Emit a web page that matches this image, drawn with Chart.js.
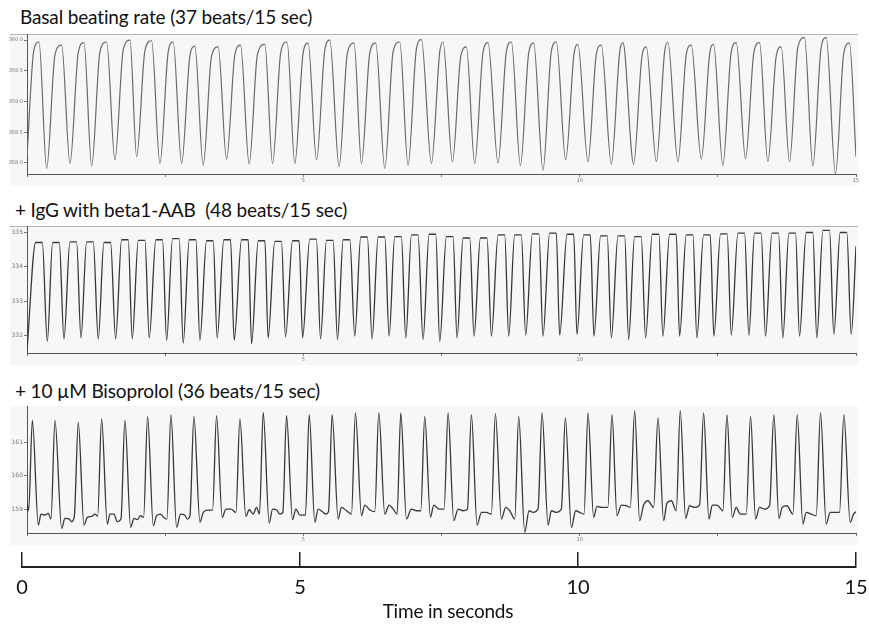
<!DOCTYPE html>
<html>
<head>
<meta charset="utf-8">
<title>Beating rate traces</title>
<script src="https://cdn.jsdelivr.net/npm/chart.js@4.4.1/dist/chart.umd.min.js"></script>
<style>
  html, body { margin: 0; padding: 0; background: #fff; }
  body { width: 869px; height: 625px; position: relative; overflow: hidden; font-family: 'Lato', sans-serif; }
  .title { position: absolute; font-size: 19px; line-height: 20px; letter-spacing: -0.15px; color: #111; white-space: pre; }
  .axis-title { position: absolute; left: 348px; width: 200px; text-align: center; font-size: 19px; line-height: 19px;
                letter-spacing: -0.2px; color: #111; }
  .panel { position: absolute; left: 0; }
</style>
</head>
<body>

<div class="title" style="top:7px;left:20px">Basal beating rate (37 beats/15 sec)</div>
<div class="title" style="top:200px;left:15px">+ IgG with beta1-AAB  (48 beats/15 sec)</div>
<div class="title" style="top:381px;left:15px">+ 10 µM Bisoprolol (36 beats/15 sec)</div>

<canvas id="chartBasal" class="panel" width="869" height="152" style="top:34px"></canvas>
<canvas id="chartIgG"   class="panel" width="869" height="139" style="top:226px"></canvas>
<canvas id="chartBiso"  class="panel" width="869" height="139" style="top:406px"></canvas>
<canvas id="chartTime"  class="panel" width="869" height="85"  style="top:540px"></canvas>
<div class="axis-title" style="top:601px">Time in seconds</div>

<script>
/* ================================================================
   DATA — key points (time in s)
   ================================================================ */
const xTickValues = [0, 2.5, 5, 7.5, 10, 12.5, 15];
const timeTicks   = [0, 5, 10, 15];

/* Basal beating rate */
const basalTicks   = [358.0, 358.5, 359.0, 359.5, 360.0];
const basalPeakT   = [0.217, 0.627, 1.031, 1.441, 1.863, 2.255, 2.646, 3.038, 3.459, 3.864, 4.304, 4.707, 5.087,
                      5.479, 5.919, 6.311, 6.745, 7.137, 7.528, 7.951, 8.342, 8.765, 9.168, 9.579, 9.969, 10.392,
                      10.783, 11.206, 11.597, 12.020, 12.423, 12.834, 13.255, 13.647, 14.069, 14.461, 14.882];
const basalPeakV   = [359.97, 359.92, 359.96, 359.97, 360.00, 359.99, 359.97, 359.90, 359.89, 359.92, 359.93, 359.97, 359.95,
                      360.00, 359.95, 359.95, 359.97, 360.01, 359.97, 359.89, 359.96, 359.97, 359.95, 359.97, 359.93, 359.92,
                      359.96, 359.89, 359.97, 359.92, 359.93, 359.96, 359.96, 359.89, 360.04, 360.04, 359.95];
const basalShoulderT = [0.120, 0.506, 0.928, 1.320, 1.741, 2.134, 2.555, 2.947, 3.338, 3.761, 4.170, 4.593, 4.996,
                        5.389, 5.797, 6.202, 6.624, 7.045, 7.468, 7.848, 8.251, 8.673, 9.078, 9.486, 9.897, 10.300,
                        10.723, 11.126, 11.537, 11.928, 12.351, 12.741, 13.152, 13.555, 13.947, 14.369, 14.779];
const basalShoulderV = [359.81, 359.76, 359.80, 359.81, 359.84, 359.83, 359.81, 359.74, 359.73, 359.76, 359.77, 359.81, 359.79,
                        359.84, 359.79, 359.79, 359.81, 359.85, 359.81, 359.73, 359.80, 359.81, 359.79, 359.81, 359.77, 359.76,
                        359.80, 359.73, 359.81, 359.76, 359.77, 359.80, 359.80, 359.73, 359.88, 359.88, 359.79];
const basalTroughT = [0, 0.356, 0.778, 1.170, 1.591, 1.984, 2.405, 2.797, 3.188, 3.611, 4.020, 4.443, 4.846, 5.239,
                      5.647, 6.052, 6.474, 6.895, 7.318, 7.698, 8.101, 8.523, 8.928, 9.336, 9.747, 10.150, 10.573,
                      10.976, 11.387, 11.778, 12.201, 12.591, 13.002, 13.405, 13.797, 14.219, 14.629, 15];
const basalTroughV = [358.10, 357.91, 357.99, 357.95, 358.05, 358.10, 357.99, 357.99, 357.96, 358.06, 357.98, 357.99, 357.99, 358.05,
                      357.94, 357.99, 357.91, 357.96, 357.99, 358.02, 357.99, 358.00, 357.96, 357.88, 358.05, 358.02, 357.98,
                      357.98, 358.02, 358.02, 358.06, 357.96, 358.07, 358.02, 358.02, 357.95, 357.82, 358.10];

/* + IgG with beta1-AAB */
const igTicks     = [332, 333, 334, 335];
const igTopStartT = [0.157, 0.464, 0.777, 1.079, 1.392, 1.712, 2.014, 2.332, 2.634, 2.936, 3.249, 3.562, 3.882, 4.184,
                     4.484, 4.804, 5.117, 5.419, 5.721, 6.039, 6.354, 6.654, 6.956, 7.276, 7.589, 7.891, 8.204, 8.524,
                     8.824, 9.144, 9.457, 9.772, 10.072, 10.379, 10.694, 10.994, 11.314, 11.627, 11.929, 12.242, 12.549,
                     12.864, 13.164, 13.479, 13.786, 14.099, 14.401, 14.714];
const igTopEndT   = [0.277, 0.584, 0.897, 1.199, 1.512, 1.832, 2.134, 2.452, 2.754, 3.056, 3.369, 3.682, 4.002, 4.304,
                     4.604, 4.924, 5.237, 5.539, 5.841, 6.159, 6.474, 6.774, 7.076, 7.396, 7.709, 8.011, 8.324, 8.644,
                     8.944, 9.264, 9.577, 9.892, 10.192, 10.499, 10.814, 11.114, 11.434, 11.747, 12.049, 12.362, 12.669,
                     12.984, 13.284, 13.599, 13.906, 14.219, 14.521, 14.834];
const igTopV      = [334.71, 334.71, 334.73, 334.73, 334.71, 334.79, 334.77, 334.79, 334.82, 334.79, 334.76, 334.79, 334.79,
                     334.76, 334.74, 334.76, 334.81, 334.77, 334.79, 334.87, 334.87, 334.88, 334.93, 334.95, 334.88, 334.84,
                     334.84, 334.93, 334.93, 334.96, 334.98, 334.95, 334.93, 334.90, 334.90, 334.88, 334.95, 334.95, 334.93,
                     334.93, 334.96, 334.98, 334.98, 334.98, 334.98, 335.00, 335.06, 335.00];
const igTroughT   = [0, 0.367, 0.669, 0.976, 1.289, 1.604, 1.904, 2.212, 2.526, 2.826, 3.128, 3.441, 3.749, 4.063, 4.363,
                     4.678, 4.986, 5.311, 5.618, 5.931, 6.244, 6.552, 6.854, 7.166, 7.468, 7.781, 8.089, 8.403, 8.716,
                     9.024, 9.336, 9.638, 9.951, 10.259, 10.573, 10.886, 11.193, 11.506, 11.808, 12.121, 12.429, 12.743,
                     13.062, 13.363, 13.676, 13.978, 14.291, 14.599, 14.913, 15];
const igTroughV   = [331.55, 331.83, 331.90, 331.93, 331.90, 331.90, 331.90, 331.93, 331.86, 331.78, 331.86, 331.93, 331.86,
                     331.76, 331.93, 331.96, 331.93, 331.90, 331.88, 331.98, 331.90, 331.98, 331.93, 331.88, 331.83, 331.93,
                     331.98, 331.98, 331.98, 332.01, 331.98, 332.01, 332.03, 331.98, 331.93, 331.88, 331.93, 331.98, 331.98,
                     331.93, 331.98, 332.01, 332.01, 331.98, 331.93, 331.98, 331.93, 332.03, 332.03, 334.60];

/* + 10 µM Bisoprolol */
const bisoTicks = [159, 160, 161];
const bisoPeakT = [0.097, 0.506, 0.928, 1.350, 1.772, 2.182, 2.604, 3.020, 3.430, 3.852, 4.274, 4.696, 5.106,
                   5.521, 5.943, 6.365, 6.763, 7.197, 7.619, 8.041, 8.475, 8.897, 9.319, 9.741, 10.151, 10.585,
                   10.995, 11.417, 11.820, 12.242, 12.664, 13.092, 13.514, 13.936, 14.358, 14.780];
const bisoPeakV = [161.67, 161.67, 161.61, 161.71, 161.67, 161.79, 161.84, 161.79, 161.81, 161.71, 161.91, 161.81, 161.84,
                   161.84, 161.89, 161.90, 161.89, 161.79, 161.89, 161.84, 161.87, 161.79, 161.90, 161.74, 161.89, 161.84,
                   161.96, 161.74, 161.96, 161.89, 161.84, 161.79, 161.84, 161.84, 161.90, 161.84];
const bisoBaseT = [0, 0.030,
  0.205, 0.253, 0.325, 0.386, 0.434,   0.627, 0.687, 0.765, 0.808, 0.856,   1.031, 1.091, 1.169, 1.230, 1.278,
  1.453, 1.501, 1.573, 1.634, 1.700,   1.875, 1.935, 1.995, 2.055, 2.110,   2.285, 2.345, 2.417, 2.477, 2.532,
  2.707, 2.779, 2.851, 2.905, 2.948,   3.129, 3.189, 3.267, 3.358,          3.532, 3.599, 3.689, 3.780,
  3.960, 4.021, 4.093, 4.153, 4.207,   4.382, 4.443, 4.515, 4.575, 4.629,   4.804, 4.865, 4.937, 5.039,
  5.208, 5.268, 5.347, 5.407, 5.455,   5.630, 5.690, 5.781, 5.871,          6.052, 6.112, 6.203, 6.293,
  6.474, 6.552, 6.625, 6.697,          6.866, 6.956, 7.047, 7.125,          7.300, 7.360, 7.457, 7.547,
  7.722, 7.800, 7.891, 7.969,          8.144, 8.222, 8.313, 8.403,          8.584, 8.662, 8.735, 8.825,
  9.006, 9.084, 9.157, 9.247,          9.428, 9.488, 9.579, 9.669,          9.850, 9.928, 10.000, 10.079,
  10.253, 10.313, 10.392, 10.510,      10.675, 10.754, 10.844, 10.916,      11.085, 11.157, 11.236, 11.338,
  11.519, 11.579, 11.658, 11.748,      11.917, 11.989, 12.080, 12.170,      12.339, 12.399, 12.484, 12.592,
  12.761, 12.833, 12.905, 13.014,      13.183, 13.255, 13.346, 13.436,      13.605, 13.665, 13.749, 13.858,
  14.039, 14.099, 14.189, 14.280,      14.461, 14.533, 14.611, 14.702,      14.895, 14.955, 15];
const bisoBaseV = [159.20, 158.95,
  158.52, 158.85, 158.82, 158.87, 158.70,   158.42, 158.72, 158.70, 158.62, 158.78,   158.52, 158.75, 158.78, 158.85, 158.78,
  158.55, 158.85, 158.85, 158.62, 158.70,   158.45, 158.72, 158.68, 158.80, 158.75,   158.50, 158.80, 158.85, 158.74, 158.70,
  158.45, 158.85, 158.82, 158.70, 158.80,   158.60, 158.90, 158.97, 158.97,           158.75, 159.00, 159.00, 158.90,
  158.78, 158.98, 158.85, 159.05, 158.85,   158.58, 159.00, 158.98, 158.85, 158.90,   158.68, 159.00, 158.82, 158.82,
  158.60, 159.00, 158.92, 158.85, 158.92,   158.70, 159.05, 158.95, 158.85,           158.80, 159.12, 158.97, 158.92,
  158.85, 159.12, 159.00, 158.85,           158.70, 159.00, 158.95, 158.95,           158.75, 159.12, 159.00, 159.00,
  158.65, 159.00, 158.95, 159.00,           158.52, 158.90, 158.90, 158.85,           158.70, 159.05, 158.95, 158.70,
  158.30, 158.95, 158.90, 159.00,           158.52, 158.95, 158.90, 159.00,           158.45, 158.95, 158.90, 158.85,
  158.75, 159.08, 159.05, 159.05,           158.80, 159.12, 159.10, 159.05,           158.65, 159.12, 159.25, 159.05,
  158.65, 159.18, 159.25, 158.95,           158.72, 159.10, 159.05, 159.12,           158.70, 159.12, 159.12, 158.95,
  158.75, 159.05, 158.85, 158.85,           158.70, 159.05, 159.00, 159.10,           158.72, 159.05, 159.10, 158.85,
  158.55, 158.90, 158.85, 158.80,           158.55, 158.90, 158.90, 158.90,           158.60, 158.85, 158.92];

/* ================================================================
   HELPERS
   ================================================================ */
/* merge several [times, values] pairs into one sorted trace */
function trace(...pairs) {
  const pts = [];
  pairs.forEach(([ts, vs]) => ts.forEach((t, i) => pts.push({ x: t, y: vs[i] })));
  return pts.sort((a, b) => a.x - b.x);
}

/* light plot background + top frame line, like the recorder software */
const plotBg = {
  id: 'plotBg',
  beforeDraw(chart, args, opts) {
    const { ctx, chartArea: a } = chart;
    ctx.save();
    ctx.fillStyle = '#f7f7f7';
    ctx.fillRect(10, a.top, a.right + 2 - 10, chart.height - a.top);
    if (opts.frame) {
      ctx.strokeStyle = '#b4b4b4';
      ctx.lineWidth = 1;
      ctx.beginPath();
      ctx.moveTo(10, a.top + 0.5);
      ctx.lineTo(a.right + 2, a.top + 0.5);
      ctx.stroke();
    }
    ctx.restore();
  }
};

function panelChart(id, points, cfg) {
  return new Chart(document.getElementById(id), {
    type: 'line',
    data: {
      datasets: [{
        data: points,
        borderColor: cfg.color,
        borderWidth: cfg.width,
        pointRadius: 0,
        cubicInterpolationMode: 'monotone',
        fill: false,
      }]
    },
    options: {
      responsive: false,
      animation: false,
      devicePixelRatio: 1,
      layout: { padding: { left: 0, right: 13, top: 0, bottom: 0 } },
      plugins: { legend: { display: false }, tooltip: { enabled: false }, plotBg: { frame: cfg.frame } },
      scales: {
        x: {
          type: 'linear', min: 0, max: 15,
          afterBuildTicks: s => { s.ticks = xTickValues.map(v => ({ value: v })); },
          ticks: {
            font: { size: 5, family: 'DejaVu Sans' }, color: '#777', padding: 1, maxRotation: 0, autoSkip: false,
            callback: v => cfg.xLabels.includes(v) ? String(v) : ''
          },
          grid: { drawOnChartArea: false, tickLength: 3, color: '#777' },
          border: { color: '#555', width: 1 },
          afterFit: s => { s.height = 12; s.paddingLeft = 0; s.paddingRight = 0; }
        },
        y: {
          min: cfg.yMin, max: cfg.yMax,
          afterBuildTicks: s => { s.ticks = cfg.yTicks.map(v => ({ value: v })); },
          ticks: {
            font: { size: cfg.yFont, family: 'DejaVu Sans' }, color: '#777', padding: 1,
            callback: v => v.toFixed(cfg.dec)
          },
          grid: { drawOnChartArea: false, tickLength: 3, color: '#777' },
          border: { color: '#555', width: 1 },
          afterFit: s => { s.width = 27; s.paddingTop = 0; s.paddingBottom = 0; }
        }
      }
    },
    plugins: [plotBg]
  });
}

/* ================================================================
   PANELS
   ================================================================ */
panelChart('chartBasal',
  trace([basalPeakT, basalPeakV], [basalShoulderT, basalShoulderV], [basalTroughT, basalTroughV]),
  { color: '#6a6a6a', width: 1.2, yMin: 357.82, yMax: 360.10, yTicks: basalTicks, dec: 1, yFont: 5,
    xLabels: [5, 10, 15], frame: true });

panelChart('chartIgG',
  trace([igTopStartT, igTopV], [igTopEndT, igTopV], [igTroughT, igTroughV]),
  { color: '#383838', width: 1.3, yMin: 331.49, yMax: 335.19, yTicks: igTicks, dec: 0, yFont: 6,
    xLabels: [5, 10], frame: true });

panelChart('chartBiso',
  trace([bisoPeakT, bisoPeakV], [bisoBaseT, bisoBaseV]),
  { color: '#383838', width: 1.3, yMin: 158.28, yMax: 162.10, yTicks: bisoTicks, dec: 0, yFont: 6,
    xLabels: [5, 10], frame: false });

/* ================================================================
   TIME AXIS
   ================================================================ */
new Chart(document.getElementById('chartTime'), {
  type: 'line',
  data: { datasets: [] },
  options: {
    responsive: false,
    animation: false,
    devicePixelRatio: 1,
    layout: { padding: { left: 22, right: 13, top: 12, bottom: 0 } },
    plugins: { legend: { display: false }, tooltip: { enabled: false } },
    scales: {
      x: {
        type: 'linear', min: 0, max: 15,
        afterBuildTicks: s => { s.ticks = timeTicks.map(v => ({ value: v })); },
        ticks: { font: { size: 20, family: 'Lato' }, color: '#111', padding: 9, maxRotation: 0 },
        grid: { drawTicks: false, color: '#222', lineWidth: 1.5 },
        border: { color: '#222', width: 2 },
        afterFit: s => { s.height = 58; s.paddingLeft = 0; s.paddingRight = 0; }
      },
      y: { display: false, min: 0, max: 1 }
    }
  }
});
</script>
</body>
</html>
